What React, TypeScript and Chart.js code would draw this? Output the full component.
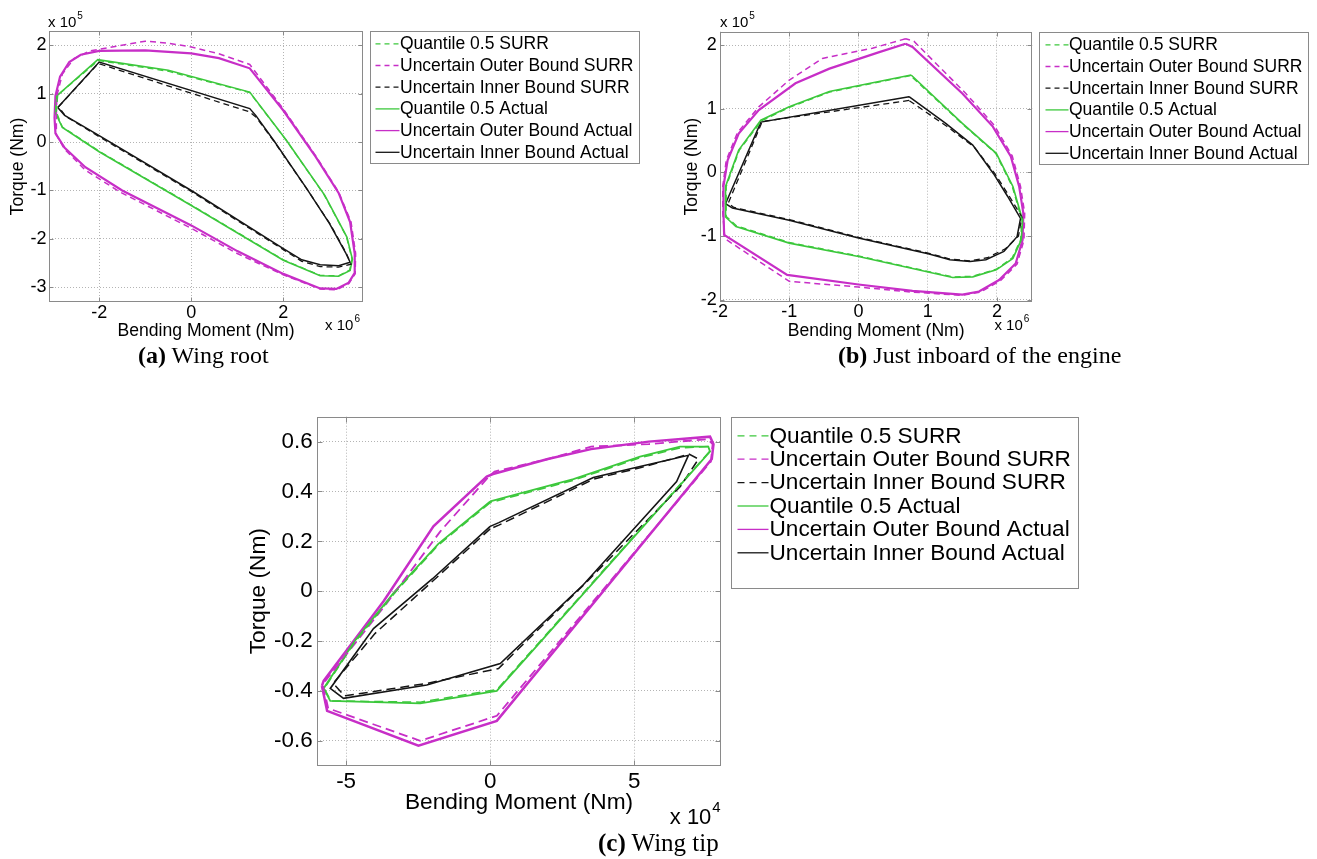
import React, { useEffect, useRef } from "react";
import { Chart, registerables } from "chart.js";

Chart.register(...registerables);

type Pt = [number, number];

const seriesLabels = [
  "Quantile 0.5 SURR",
  "Uncertain Outer Bound SURR",
  "Uncertain Inner Bound SURR",
  "Quantile 0.5 Actual",
  "Uncertain Outer Bound Actual",
  "Uncertain Inner Bound Actual",
];

// ---------- (a) Wing root : bending moment x10^6, torque x10^5 ----------
const rootXTicks = [-2, 0, 2];
const rootYTicks = [-3, -2, -1, 0, 1, 2];
const rootQuantSurr: Pt[] = [[-2.93,0.62],[-2.9,0.97],[-2.02,1.68],[-0.5,1.46],[1.27,1.02],[2.06,0.04],[2.88,-1.08],[3.37,-1.95],[3.49,-2.41],[3.44,-2.64],[3.2,-2.76],[2.8,-2.75],[2.0,-2.43],[0.0,-1.3],[-2.0,-0.19],[-2.8,0.31],[-2.93,0.62]];
const rootOuterSurr: Pt[] = [[-2.93,0.55],[-2.92,0.95],[-2.8,1.4],[-2.55,1.72],[-2.2,1.88],[-1.6,1.98],[-1.0,2.08],[-0.5,2.04],[0.0,1.96],[0.6,1.82],[1.27,1.6],[2.0,0.68],[2.7,-0.28],[3.2,-1.03],[3.47,-1.65],[3.57,-2.3],[3.56,-2.72],[3.42,-2.92],[3.15,-3.05],[2.8,-3.03],[2.0,-2.74],[1.0,-2.3],[0.0,-1.78],[-1.55,-1.03],[-2.3,-0.58],[-2.75,-0.15],[-2.93,0.15],[-2.93,0.55]];
const rootInnerSurr: Pt[] = [[-2.88,0.73],[-2.02,1.62],[1.27,0.62],[1.42,0.5],[1.82,-0.02],[2.52,-0.98],[3.02,-1.7],[3.37,-2.3],[3.47,-2.52],[3.2,-2.58],[2.8,-2.57],[2.4,-2.46],[2.0,-2.22],[0.0,-1.02],[-2.0,0.11],[-2.73,0.53],[-2.88,0.73]];
const rootQuantActual: Pt[] = [[-2.95,0.6],[-2.92,0.95],[-2.03,1.7],[-0.5,1.48],[1.27,1.03],[2.07,0.03],[2.9,-1.1],[3.38,-1.96],[3.5,-2.42],[3.45,-2.65],[3.2,-2.77],[2.8,-2.76],[2.0,-2.44],[0.0,-1.31],[-2.0,-0.2],[-2.8,0.3],[-2.95,0.6]];
const rootOuterActual: Pt[] = [[-2.97,0.5],[-2.95,0.95],[-2.85,1.35],[-2.65,1.65],[-2.4,1.8],[-2.0,1.88],[-1.0,1.89],[0.0,1.83],[0.6,1.73],[1.27,1.52],[2.0,0.65],[2.7,-0.3],[3.2,-1.05],[3.45,-1.65],[3.55,-2.3],[3.55,-2.7],[3.42,-2.9],[3.15,-3.03],[2.8,-3.02],[2.0,-2.72],[1.0,-2.25],[0.0,-1.72],[-1.5,-1.0],[-2.3,-0.52],[-2.75,-0.12],[-2.95,0.18],[-2.97,0.5]];
const rootInnerActual: Pt[] = [[-2.9,0.71],[-2.0,1.65],[1.27,0.69],[1.4,0.55],[1.8,0.02],[2.5,-0.95],[3.0,-1.68],[3.35,-2.28],[3.45,-2.48],[3.2,-2.55],[2.8,-2.53],[2.4,-2.43],[2.0,-2.2],[0.0,-1.0],[-2.0,0.13],[-2.75,0.55],[-2.9,0.71]];

// ---------- (b) Just inboard of the engine : x10^6, x10^5 ----------
const engXTicks = [-2, -1, 0, 1, 2];
const engYTicks = [-2, -1, 0, 1, 2];
const engQuantSurr: Pt[] = [[0.75,1.52],[-0.42,1.26],[-1.0,1.02],[-1.4,0.81],[-1.72,0.35],[-1.91,-0.22],[-1.91,-0.69],[-1.76,-0.84],[-1.0,-1.1],[0.0,-1.31],[0.78,-1.5],[1.36,-1.64],[1.65,-1.63],[1.99,-1.52],[2.22,-1.34],[2.34,-1.06],[2.36,-0.75],[2.22,-0.22],[1.98,0.3],[1.5,0.76],[0.75,1.52]];
const engOuterSurr: Pt[] = [[0.68,2.1],[0.2,1.95],[-0.52,1.79],[-1.0,1.45],[-1.44,1.03],[-1.75,0.62],[-1.91,0.19],[-1.96,-0.22],[-1.96,-0.64],[-1.93,-1.04],[-1.0,-1.71],[0.0,-1.8],[0.78,-1.88],[1.5,-1.93],[1.76,-1.88],[2.05,-1.7],[2.29,-1.44],[2.39,-1.06],[2.4,-0.64],[2.34,-0.22],[2.22,0.26],[1.96,0.74],[1.55,1.24],[0.8,2.06],[0.68,2.1]];
const engInnerSurr: Pt[] = [[0.73,1.13],[-1.39,0.8],[-1.88,-0.48],[-1.8,-0.55],[-1.0,-0.74],[0.0,-1.02],[1.02,-1.27],[1.32,-1.36],[1.61,-1.39],[1.86,-1.34],[2.12,-1.2],[2.31,-1.0],[2.36,-0.7],[2.17,-0.36],[1.97,-0.02],[1.67,0.4],[1.28,0.72],[0.73,1.13]];
const engQuantActual: Pt[] = [[0.76,1.53],[-0.42,1.27],[-1.0,1.03],[-1.41,0.82],[-1.73,0.35],[-1.92,-0.22],[-1.92,-0.7],[-1.77,-0.85],[-1.0,-1.11],[0.0,-1.32],[0.78,-1.51],[1.36,-1.65],[1.65,-1.64],[1.99,-1.53],[2.23,-1.35],[2.35,-1.06],[2.37,-0.75],[2.23,-0.22],[1.99,0.3],[1.5,0.77],[0.76,1.53]];
const engOuterActual: Pt[] = [[0.68,2.02],[0.3,1.89],[-0.42,1.63],[-0.91,1.4],[-1.44,0.98],[-1.73,0.61],[-1.89,0.19],[-1.95,-0.22],[-1.95,-0.64],[-1.94,-0.98],[-1.03,-1.61],[0.0,-1.76],[0.78,-1.86],[1.5,-1.92],[1.74,-1.87],[2.03,-1.69],[2.27,-1.43],[2.37,-1.06],[2.38,-0.64],[2.32,-0.22],[2.2,0.25],[1.94,0.72],[1.5,1.24],[0.78,1.97],[0.68,2.02]];
const engInnerActual: Pt[] = [[0.73,1.19],[-1.41,0.79],[-1.92,-0.49],[-1.82,-0.56],[-1.0,-0.75],[0.0,-1.03],[1.02,-1.28],[1.32,-1.37],[1.61,-1.4],[1.84,-1.37],[2.1,-1.24],[2.29,-1.01],[2.34,-0.72],[2.15,-0.37],[1.95,-0.02],[1.65,0.43],[1.26,0.77],[0.73,1.19]];

// ---------- (c) Wing tip : bending moment x10^4 ----------
const tipXTicks = [-5, 0, 5];
const tipYTicks = [-0.6, -0.4, -0.2, 0, 0.2, 0.4, 0.6];
const tipQuantSurr: Pt[] = [[0.0,0.355],[-1.8,0.185],[-3.3,-0.005],[-4.7,-0.205],[-5.76,-0.39],[-5.53,-0.44],[-2.43,-0.445],[0.23,-0.395],[7.61,0.56],[7.55,0.58],[6.59,0.575],[5.2,0.535],[2.89,0.445],[0.0,0.355]];
const tipOuterSurr: Pt[] = [[-5.8,-0.38],[-5.62,-0.47],[-2.43,-0.6],[0.23,-0.5],[7.66,0.52],[7.72,0.59],[7.55,0.61],[5.5,0.59],[3.5,0.58],[2.0,0.53],[0.15,0.48],[-0.05,0.46],[-1.73,0.24],[-3.6,-0.05],[-5.72,-0.36],[-5.8,-0.38]];
const tipInnerSurr: Pt[] = [[0.0,0.25],[-2.0,0.04],[-4.0,-0.17],[-5.45,-0.37],[-5.05,-0.42],[-2.2,-0.37],[0.29,-0.31],[3.2,0.02],[6.6,0.42],[7.23,0.53],[6.9,0.55],[5.2,0.495],[3.6,0.45],[0.3,0.265],[0.0,0.25]];
const tipQuantActual: Pt[] = [[0.0,0.36],[-1.8,0.19],[-3.3,0.0],[-4.7,-0.2],[-5.78,-0.39],[-5.55,-0.44],[-2.43,-0.45],[0.23,-0.4],[7.63,0.56],[7.57,0.58],[6.59,0.58],[5.2,0.54],[2.89,0.45],[0.0,0.36]];
const tipOuterActual: Pt[] = [[-5.84,-0.38],[-5.66,-0.48],[-2.49,-0.62],[0.23,-0.52],[7.69,0.53],[7.75,0.59],[7.63,0.62],[5.5,0.6],[3.5,0.57],[2.0,0.53],[0.1,0.47],[-0.12,0.46],[-1.97,0.26],[-3.7,-0.04],[-5.78,-0.36],[-5.84,-0.38]];
const tipInnerActual: Pt[] = [[0.0,0.26],[-2.0,0.05],[-4.05,-0.15],[-5.55,-0.39],[-5.09,-0.43],[-2.2,-0.376],[0.35,-0.29],[3.24,0.027],[6.47,0.44],[6.88,0.545],[5.2,0.5],[3.58,0.456],[0.3,0.275],[0.0,0.26]];

const FONT = "'Liberation Sans', Arial, sans-serif";
const SERIF = "'Liberation Serif', 'Times New Roman', serif";
const GREEN = "#3cc83c";
const MAGENTA = "#c72ec7";
const BLACK = "#151515";
const seriesColors = [GREEN, MAGENTA, BLACK, GREEN, MAGENTA, BLACK];
const GRID = "#b4b4b4";
const FRAME = "#8a8a8a";

interface Spec {
  series: Pt[][];
  xMin: number; xMax: number; yMin: number; yMax: number;
  xTicks: number[]; yTicks: number[];
  left: number; top: number; canvasW: number; canvasH: number;
  area: { left: number; top: number; right: number; bottom: number };
  xAxisH: number;
  tickFont: number; titleFont: number; legendFont: number;
  xTickPad: number; yTickPad: number; xTitlePad: number; yTitlePad: number;
  dash: number[]; widths: number[]; tickLen: number;
  legend: { gap: number; w: number; h: number; first: number; step: number; l0: number; l1: number; tx: number; dash: number[] };
  yExp?: { exp: string; dx: number; dy: number; size: number; sup: number };
  xExp?: { exp: string; dx: number; dy: number; size: number; sup: number };
}

function drawExp(ctx: CanvasRenderingContext2D, x: number, y: number, exp: string, size: number, sup: number, alignRight: boolean) {
  ctx.font = `${size}px ${FONT}`;
  const w = ctx.measureText("x 10").width;
  ctx.font = `${sup}px ${FONT}`;
  const ws = ctx.measureText(exp).width;
  const x0 = alignRight ? x - w - ws - 1 : x;
  ctx.fillStyle = "#000";
  ctx.textAlign = "left";
  ctx.textBaseline = "middle";
  ctx.font = `${size}px ${FONT}`;
  ctx.fillText("x 10", x0, y);
  ctx.font = `${sup}px ${FONT}`;
  ctx.fillText(exp, x0 + w + 1, y - size * 0.45);
}

function makeDecor(p: Spec) {
  return {
    id: "decor",
    afterDraw(chart: any) {
      const { ctx, chartArea: a, scales } = chart;
      ctx.save();
      ctx.setLineDash([]);
      ctx.strokeStyle = FRAME;
      ctx.lineWidth = 1;
      const L = Math.round(a.left) + 0.5, T = Math.round(a.top) + 0.5;
      const R = Math.round(a.right) - 0.5, B = Math.round(a.bottom) - 0.5;
      ctx.strokeRect(L, T, R - L, B - T);
      ctx.beginPath();
      p.xTicks.forEach((v) => {
        const x = Math.round(scales.x.getPixelForValue(v)) + 0.5;
        ctx.moveTo(x, B); ctx.lineTo(x, B - p.tickLen);
        ctx.moveTo(x, T); ctx.lineTo(x, T + p.tickLen);
      });
      p.yTicks.forEach((v) => {
        const y = Math.round(scales.y.getPixelForValue(v)) + 0.5;
        ctx.moveTo(L, y); ctx.lineTo(L + p.tickLen, y);
        ctx.moveTo(R, y); ctx.lineTo(R - p.tickLen, y);
      });
      ctx.stroke();

      // legend box
      const lg = p.legend;
      const bx = Math.round(a.right + lg.gap) + 0.5;
      const by = Math.round(a.top) + 0.5;
      ctx.fillStyle = "#fff";
      ctx.fillRect(bx, by, lg.w, lg.h);
      ctx.strokeStyle = FRAME;
      ctx.strokeRect(bx, by, lg.w, lg.h);
      chart.data.datasets.forEach((ds: any, i: number) => {
        const y = by + lg.first + i * lg.step;
        ctx.beginPath();
        ctx.setLineDash(ds.borderDash && ds.borderDash.length ? lg.dash : []);
        ctx.strokeStyle = ds.borderColor;
        ctx.lineWidth = 1.3;
        ctx.moveTo(bx + lg.l0, y);
        ctx.lineTo(bx + lg.l1, y);
        ctx.stroke();
        ctx.setLineDash([]);
        ctx.fillStyle = "#000";
        ctx.font = `${p.legendFont}px ${FONT}`;
        ctx.textAlign = "left";
        ctx.textBaseline = "middle";
        ctx.fillText(ds.label, bx + lg.tx, y + 0.5);
      });

      if (p.yExp) drawExp(ctx, a.left + p.yExp.dx, a.top + p.yExp.dy, p.yExp.exp, p.yExp.size, p.yExp.sup, false);
      if (p.xExp) drawExp(ctx, a.right + p.xExp.dx, a.bottom + p.xExp.dy, p.xExp.exp, p.xExp.size, p.xExp.sup, true);
      ctx.restore();
    },
  };
}

const fmt = (v: number) => {
  const r = Math.round(v * 1000) / 1000;
  return String(r === 0 ? 0 : r);
};

function buildConfig(p: Spec): any {
  const datasets = p.series.map((pts, i) => ({
    label: seriesLabels[i],
    data: pts.map(([x, y]) => ({ x, y })),
    showLine: true,
    borderColor: seriesColors[i],
    backgroundColor: seriesColors[i],
    borderWidth: p.widths[i],
    borderDash: i < 3 ? p.dash : [],
    pointRadius: 0,
    pointHoverRadius: 0,
    tension: 0,
    fill: false,
  }));
  const f = (size: number) => ({ family: FONT, size, lineHeight: 1.2 });
  return {
    type: "scatter",
    data: { datasets },
    options: {
      responsive: false,
      maintainAspectRatio: false,
      animation: false,
      events: [],
      layout: {
        padding: {
          left: 0,
          top: p.area.top,
          right: p.canvasW - p.area.right,
          bottom: p.canvasH - p.area.bottom - p.xAxisH,
        },
      },
      plugins: { legend: { display: false }, tooltip: { enabled: false } },
      scales: {
        x: {
          type: "linear",
          position: "bottom",
          min: p.xMin,
          max: p.xMax,
          afterBuildTicks: (s: any) => { s.ticks = p.xTicks.map((v) => ({ value: v })); },
          afterFit: (s: any) => { s.height = p.xAxisH; },
          ticks: { autoSkip: false, maxRotation: 0, minRotation: 0, padding: p.xTickPad, color: "#000", font: f(p.tickFont), callback: (v: number) => fmt(v) },
          grid: { color: GRID, lineWidth: 1, drawTicks: false },
          border: { display: false, dash: [1, 2] },
          title: { display: true, text: "Bending Moment (Nm)", color: "#000", font: f(p.titleFont), padding: { top: 0, bottom: p.xTitlePad } },
        },
        y: {
          type: "linear",
          position: "left",
          min: p.yMin,
          max: p.yMax,
          afterBuildTicks: (s: any) => { s.ticks = p.yTicks.map((v) => ({ value: v })); },
          afterFit: (s: any) => { s.width = p.area.left; },
          ticks: { autoSkip: false, padding: p.yTickPad, color: "#000", font: f(p.tickFont), callback: (v: number) => fmt(v) },
          grid: { color: GRID, lineWidth: 1, drawTicks: false },
          border: { display: false, dash: [1, 2] },
          title: { display: true, text: "Torque (Nm)", color: "#000", font: f(p.titleFont), padding: { top: p.yTitlePad, bottom: 0 } },
        },
      },
    },
    plugins: [makeDecor(p)],
  };
}

const specA: Spec = {
  series: [rootQuantSurr, rootOuterSurr, rootInnerSurr, rootQuantActual, rootOuterActual, rootInnerActual],
  xMin: -3.09, xMax: 3.73, yMin: -3.3, yMax: 2.29,
  xTicks: rootXTicks, yTicks: rootYTicks,
  left: 0, top: 0, canvasW: 660, canvasH: 372,
  area: { left: 49, top: 31, right: 363, bottom: 302 },
  xAxisH: 45,
  tickFont: 18, titleFont: 17.6, legendFont: 17.5,
  xTickPad: 0, yTickPad: 2.5, xTitlePad: 5.4, yTitlePad: 7.7,
  dash: [6, 4], widths: [1.3, 1.5, 1.3, 1.6, 2.2, 1.5], tickLen: 4,
  legend: { gap: 7, w: 269, h: 132, first: 12.3, step: 21.7, l0: 5, l1: 29, tx: 29.5, dash: [5, 4] },
  yExp: { exp: "5", dx: -1, dy: -8.5, size: 15, sup: 10 },
  xExp: { exp: "6", dx: -3, dy: 24, size: 15, sup: 10 },
};

const specB: Spec = {
  series: [engQuantSurr, engOuterSurr, engInnerSurr, engQuantActual, engOuterActual, engInnerActual],
  xMin: -2, xMax: 2.51, yMin: -2.03, yMax: 2.21,
  xTicks: engXTicks, yTicks: engYTicks,
  left: 680, top: 0, canvasW: 637, canvasH: 372,
  area: { left: 40, top: 31.7, right: 352.3, bottom: 301.7 },
  xAxisH: 45,
  tickFont: 18, titleFont: 17.6, legendFont: 17.5,
  xTickPad: 0, yTickPad: 3.3, xTitlePad: 5.4, yTitlePad: 1.1,
  dash: [6, 4], widths: [1.3, 1.5, 1.3, 1.6, 2.2, 1.5], tickLen: 4,
  legend: { gap: 6.7, w: 269, h: 132, first: 12.3, step: 21.7, l0: 6, l1: 29, tx: 29.5, dash: [5, 4] },
  yExp: { exp: "5", dx: 0, dy: -9, size: 15, sup: 10 },
  xExp: { exp: "6", dx: -3, dy: 24, size: 15, sup: 10 },
};

const specC: Spec = {
  series: [tipQuantSurr, tipOuterSurr, tipInnerSurr, tipQuantActual, tipOuterActual, tipInnerActual],
  xMin: -6, xMax: 8, yMin: -0.7, yMax: 0.7,
  xTicks: tipXTicks, yTicks: tipYTicks,
  left: 240, top: 395, canvasW: 860, canvasH: 464,
  area: { left: 77.3, top: 21.7, right: 480.7, bottom: 370.7 },
  xAxisH: 60,
  tickFont: 22.4, titleFont: 22.7, legendFont: 22.6,
  xTickPad: 2.9, yTickPad: 4.6, xTitlePad: 9.1, yTitlePad: 5.6,
  dash: [9, 5], widths: [1.5, 1.8, 1.5, 1.8, 2.5, 1.6], tickLen: 5,
  legend: { gap: 10.3, w: 347, h: 171, first: 18.3, step: 23.4, l0: 6, l1: 37, tx: 38, dash: [7, 5] },
  xExp: { exp: "4", dx: 0, dy: 52, size: 22, sup: 15 },
};

function Panel({ spec }: { spec: Spec }) {
  const ref = useRef<HTMLCanvasElement | null>(null);
  useEffect(() => {
    if (!ref.current) return;
    const chart = new Chart(ref.current, buildConfig(spec));
    return () => chart.destroy();
  }, [spec]);
  return (
    <canvas
      ref={ref}
      width={spec.canvasW}
      height={spec.canvasH}
      style={{ position: "absolute", left: spec.left, top: spec.top, width: spec.canvasW, height: spec.canvasH }}
    />
  );
}

function Caption({ tag, text, left, top, size }: { tag: string; text: string; left: number; top: number; size: number }) {
  return (
    <div style={{ position: "absolute", left, top, fontFamily: SERIF, fontSize: size, lineHeight: 1, whiteSpace: "nowrap", color: "#000" }}>
      <b>{tag}</b> {text}
    </div>
  );
}

export default function App() {
  return (
    <div style={{ position: "absolute", left: 0, top: 0, width: 1317, height: 859, background: "#fff", overflow: "hidden" }}>
      <Panel spec={specA} />
      <Panel spec={specB} />
      <Panel spec={specC} />
      <Caption tag="(a)" text="Wing root" left={138} top={343} size={24} />
      <Caption tag="(b)" text="Just inboard of the engine" left={838} top={343} size={24} />
      <Caption tag="(c)" text="Wing tip" left={598} top={830} size={25} />
    </div>
  );
}
